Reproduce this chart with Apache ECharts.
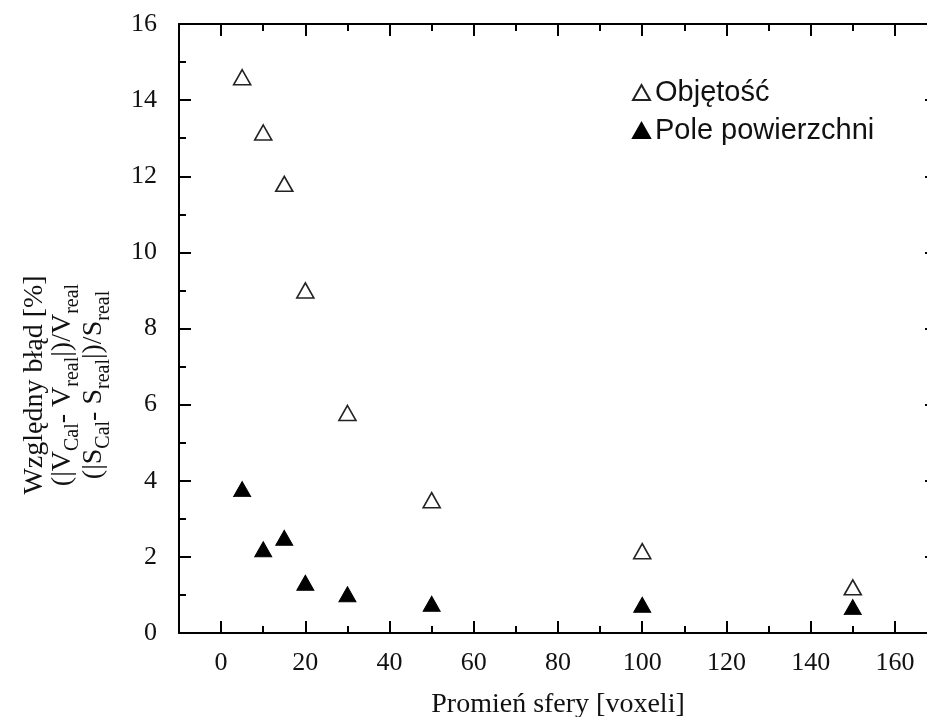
<!DOCTYPE html>
<html>
<head>
<meta charset="utf-8">
<script src="https://cdn.jsdelivr.net/npm/echarts@6/dist/echarts.min.js"></script>
<style>
  html, body { margin: 0; padding: 0; background: #fff; }
  #chart { width: 927px; height: 717px; }
</style>
</head>
<body>
<div id="chart"></div>
<script>
// Sphere radius in voxels and relative errors (%) of the computed measures
const radius = [5, 10, 15, 20, 30, 50, 100, 150];
const volumeError = [14.6, 13.15, 11.8, 9.0, 5.78, 3.49, 2.15, 1.2];
const surfaceError = [3.78, 2.2, 2.5, 1.32, 1.02, 0.77, 0.74, 0.68];

// Axis ticks
const xMajorTicks = [0, 20, 40, 60, 80, 100, 120, 140, 160];
const xMinorTicks = [10, 30, 50, 70, 90, 110, 130, 150];

const seriesNames = ['Objętość', 'Pole powierzchni'];

// Y axis title, three lines (subscripts marked with the "s" style)
const yTitleLines = [
  'Względny błąd [%]',
  '{n|(|V}{s|Cal}{n|- V}{s|real}{n||)/V}{s|real}',
  '{n|(|S}{s|Cal}{n|- S}{s|real}{n||)/S}{s|real}'
];

const SERIF = '"Liberation Serif", "Times New Roman", serif';
const SANS = '"Liberation Sans", Arial, sans-serif';

const X_MIN = -10, X_MAX = 170;

function xAxisLayer(position, ticks, len, showLine, showLabels) {
  return {
    type: 'value', position: position, min: X_MIN, max: X_MAX,
    splitLine: { show: false },
    axisLine: { show: showLine, onZero: false, lineStyle: { color: '#000', width: 2 } },
    axisTick: { show: true, inside: true, length: len, customValues: ticks,
                lineStyle: { color: '#000', width: 2 } },
    axisLabel: showLabels ? {
      customValues: xMajorTicks, color: '#111', fontFamily: SERIF, fontSize: 26, margin: 17
    } : { show: false }
  };
}

function yAxisLayer(position, showLabels) {
  return {
    type: 'value', position: position, min: 0, max: 16, interval: 2,
    splitLine: { show: false },
    axisLine: { show: true, onZero: false, lineStyle: { color: '#000', width: 2 } },
    axisTick: { show: true, inside: true, length: 12, lineStyle: { color: '#000', width: 2 } },
    minorTick: { show: true, splitNumber: 2, length: 7, lineStyle: { color: '#000', width: 2 } },
    axisLabel: showLabels ? { color: '#111', fontFamily: SERIF, fontSize: 26, margin: 22 } : { show: false }
  };
}

const titleRich = {
  n: { fontFamily: SERIF, fontSize: 28, fill: '#111', verticalAlign: 'bottom', padding: [0, 0, 6, 0] },
  s: { fontFamily: SERIF, fontSize: 20, fill: '#111', verticalAlign: 'bottom' }
};
const titleX = [35, 66, 97];

const chart = echarts.init(document.getElementById('chart'), null, { renderer: 'canvas' });

chart.setOption({
  backgroundColor: '#fff',
  animation: false,
  grid: { left: 179, top: 24, width: 758, bottom: 84, containLabel: false, outerBoundsMode: 'none' },
  legend: {
    orient: 'vertical', left: 627, top: 73,
    itemWidth: 17, itemHeight: 15, itemGap: 9,
    textStyle: { fontFamily: SANS, fontSize: 29, lineHeight: 28, color: '#111' },
    data: seriesNames
  },
  graphic: yTitleLines.map((line, i) => ({
    type: 'text', x: titleX[i], y: 385, rotation: Math.PI / 2,
    style: { text: line, rich: titleRich, align: 'center', verticalAlign: 'middle',
             fontFamily: SERIF, fontSize: 28, fill: '#111' }
  })),
  xAxis: [
    Object.assign(xAxisLayer('bottom', xMajorTicks, 12, true, true), {
      name: 'Promień sfery [voxeli]', nameLocation: 'middle', nameGap: 58,
      nameTextStyle: { fontFamily: SERIF, fontSize: 28, color: '#111' }
    }),
    xAxisLayer('bottom', xMinorTicks, 7, false, false),
    xAxisLayer('top', xMajorTicks, 12, true, false),
    xAxisLayer('top', xMinorTicks, 7, false, false)
  ],
  yAxis: [
    yAxisLayer('left', true),
    yAxisLayer('right', false)
  ],
  series: [
    {
      name: seriesNames[0], type: 'scatter', xAxisIndex: 0, yAxisIndex: 0,
      symbol: 'triangle', symbolSize: [17, 15],
      itemStyle: { color: '#fff', borderColor: '#222', borderWidth: 1.6, opacity: 1 },
      data: radius.map((r, i) => [r, volumeError[i]])
    },
    {
      name: seriesNames[1], type: 'scatter', xAxisIndex: 0, yAxisIndex: 0,
      symbol: 'triangle', symbolSize: [17, 15],
      itemStyle: { color: '#000', borderColor: '#000', borderWidth: 1, opacity: 1 },
      data: radius.map((r, i) => [r, surfaceError[i]])
    }
  ]
});
</script>
</body>
</html>
